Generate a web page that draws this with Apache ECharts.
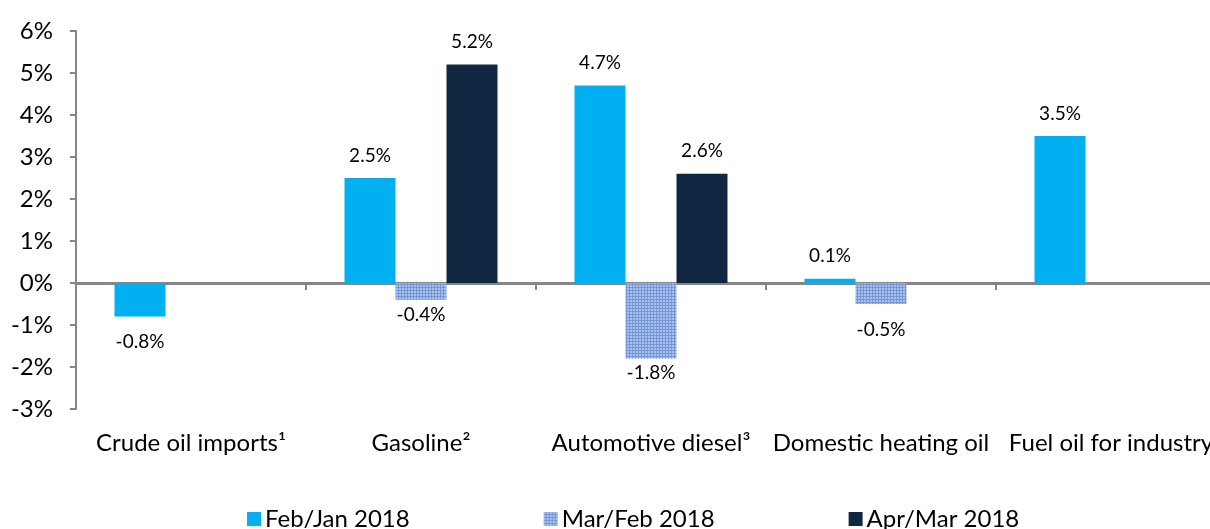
<!DOCTYPE html>
<html>
<head>
<meta charset="utf-8">
<script src="https://cdn.jsdelivr.net/npm/echarts@6/dist/echarts.min.js"></script>
<style>html,body{margin:0;padding:0;background:#fff}#c{width:1210px;height:529px}</style>
</head>
<body>
<div id="c"></div>
<script>
var categories = ['Crude oil imports\u00b9', 'Gasoline\u00b2', 'Automotive diesel\u00b3', 'Domestic heating oil', 'Fuel oil for industry'];
var seriesNames = ['Feb/Jan 2018', 'Mar/Feb 2018', 'Apr/Mar 2018'];
var febJan = [-0.8, 2.5, 4.7, 0.1, 3.5];
var marFeb = [null, -0.4, -1.8, -0.5, null];
var aprMar = [null, 5.2, 2.6, null, null];
var yTicks = [-3, -2, -1, 0, 1, 2, 3, 4, 5, 6];

// label distances per series/category (styling only)
var labelDist = [
  [16, 13, 13, 13, 13],
  [6, 6, 5, 16, 6],
  [13, 13, 13, 13, 13]
];

function makePattern() {
  var cv = document.createElement('canvas');
  cv.width = 3; cv.height = 3;
  var ctx = cv.getContext('2d');
  ctx.fillStyle = '#7397D6';
  ctx.fillRect(0, 0, 3, 3);
  ctx.fillStyle = '#ABC2EA';
  ctx.fillRect(0, 0, 2, 2);
  return cv;
}

var chart = echarts.init(document.getElementById('c'), null, {renderer: 'canvas'});
var fontFam = 'Lato, "Open Sans", sans-serif';

function build(vals, si) {
  return vals.map(function (v, i) {
    if (v === null) return null;
    return {
      value: v,
      label: {
        position: v >= 0 ? 'top' : 'bottom',
        distance: labelDist[si][i]
      }
    };
  });
}

var pattern = {image: makePattern(), repeat: 'repeat'};
var colors = ['#00B0F0', pattern, '#112641'];

var series = [febJan, marFeb, aprMar].map(function (vals, si) {
  return {
    name: seriesNames[si],
    type: 'bar',
    xAxisIndex: 0,
    yAxisIndex: 0,
    barWidth: 51,
    barGap: '0%',
    data: build(vals, si),
    itemStyle: {color: colors[si]},
    label: {
      show: true,
      fontFamily: fontFam,
      fontSize: 19,
      color: '#000',
      formatter: function (p) { return p.value.toFixed(1) + '%'; }
    },
    emphasis: {disabled: true}
  };
});

chart.setOption({
  animation: false,
  backgroundColor: '#fff',
  grid: {left: 76, top: 31, width: 1150, height: 378, containLabel: false, outerBoundsMode: 'none'},
  legend: {
    data: seriesNames,
    left: 242,
    top: 502,
    itemWidth: 14,
    itemHeight: 14,
    itemGap: 134,
    icon: 'rect',
    textStyle: {fontFamily: fontFam, fontSize: 24, color: '#000', padding: [0, 0, 0, -1]}
  },
  xAxis: [
    {
      type: 'category',
      data: categories,
      axisLine: {onZero: true, lineStyle: {color: '#868686', width: 3}},
      axisTick: {show: true, alignWithLabel: false, length: 7, lineStyle: {color: '#868686', width: 2}},
      axisLabel: {show: false},
      splitLine: {show: false}
    },
    {
      type: 'category',
      data: categories,
      position: 'bottom',
      axisLine: {show: false, onZero: false},
      axisTick: {show: false},
      axisLabel: {show: true, margin: 22, fontFamily: fontFam, fontSize: 24, color: '#000', interval: 0, hideOverlap: false},
      splitLine: {show: false}
    }
  ],
  yAxis: {
    type: 'value',
    min: yTicks[0],
    max: yTicks[yTicks.length - 1],
    interval: 1,
    axisLine: {show: true, lineStyle: {color: '#868686', width: 2}},
    axisTick: {show: true, inside: false, length: 6, lineStyle: {color: '#868686', width: 2}},
    axisLabel: {margin: 23, fontFamily: fontFam, fontSize: 24, color: '#000', formatter: function (v) { return v + '%'; }},
    splitLine: {show: false}
  },
  series: series
});
</script>
</body>
</html>
